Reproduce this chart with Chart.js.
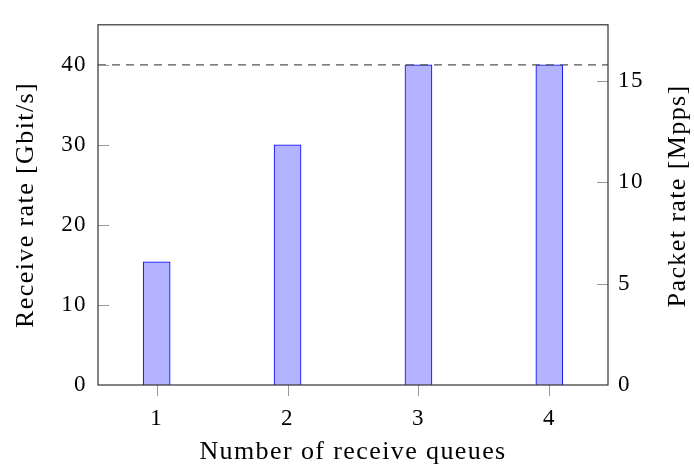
<!DOCTYPE html>
<html><head><meta charset="utf-8">
<script src="https://cdn.jsdelivr.net/npm/chart.js@4/dist/chart.umd.min.js"></script>
<style>html,body{margin:0;padding:0;background:#fff}#wrap{width:694px;height:472px}</style>
</head><body><div id="wrap"><canvas id="c" width="694" height="472"></canvas></div>
<script>
const queues = [1, 2, 3, 4];
const receiveRate = [15.4, 30, 40, 40];
const lineRate = 40;
const leftTicks = [0, 10, 20, 30, 40];
const rightTicks = [0, 5, 10, 15];
const xTicks = [1, 2, 3, 4];
const rightTitle = 'Packet rate [Mpps]';

const FONT = "'Liberation Serif', serif";

const spacingPlugin = {
  id: 'spacing',
  beforeUpdate(chart) { chart.ctx.letterSpacing = '1.4px'; },
  beforeDraw(chart) { chart.ctx.letterSpacing = '1.4px'; }
};

const boxPlugin = {
  id: 'box',
  afterDatasetsDraw(chart) {
    const {ctx, chartArea: a, scales} = chart;
    ctx.save();
    ctx.strokeStyle = '#999';
    ctx.lineWidth = 1;
    ctx.beginPath();
    leftTicks.forEach(v => { const y = Math.round(scales.y.getPixelForValue(v)) + 0.5; if (v !== 0) { ctx.moveTo(a.left, y); ctx.lineTo(a.left + 11, y); } });
    rightTicks.forEach(v => { const y = Math.round(scales.y2.getPixelForValue(v)) + 0.5; if (v !== 0) { ctx.moveTo(a.right, y); ctx.lineTo(a.right - 11, y); } });
    xTicks.forEach(v => { const x = Math.round(scales.x.getPixelForValue(v)) + 0.5; ctx.moveTo(x, a.bottom); ctx.lineTo(x, a.bottom + 11); });
    ctx.stroke();
    ctx.strokeStyle = '#333';
    ctx.lineWidth = 1.2;
    ctx.strokeRect(a.left, a.top, a.right - a.left, a.bottom - a.top);
    // right axis title, reading bottom-to-top like the left one
    const s = scales.y2;
    ctx.translate(s.right - 16, (a.top + a.bottom) / 2 - 9);
    ctx.rotate(-Math.PI / 2);
    ctx.font = "26px " + FONT;
    ctx.fillStyle = '#000';
    ctx.textAlign = 'center';
    ctx.textBaseline = 'middle';
    ctx.fillText(rightTitle, 0, 0);
    ctx.restore();
  }
};

new Chart(document.getElementById('c'), {
  type: 'bar',
  data: {
    datasets: [
      {
        type: 'line',
        data: [{x: 0.552, y: lineRate}, {x: 4.448, y: lineRate}],
        borderColor: '#555',
        borderWidth: 1.3,
        borderDash: [8, 6],
        pointRadius: 0,
        yAxisID: 'y',
        order: 0
      },
      {
        type: 'bar',
        data: queues.map((q, i) => ({x: q, y: receiveRate[i]})),
        backgroundColor: '#b3b3ff',
        borderColor: '#0000ff',
        borderWidth: 1,
        barThickness: 27,
        yAxisID: 'y',
        order: 1
      }
    ]
  },
  options: {
    responsive: false,
    animation: false,
    layout: {padding: {top: 7, left: 0, right: 0, bottom: 0}},
    plugins: {legend: {display: false}, tooltip: {enabled: false}},
    scales: {
      x: {
        type: 'linear',
        offset: false,
        min: 0.552, max: 4.448,
        afterBuildTicks: s => { s.ticks = xTicks.map(v => ({value: v})); },
        afterFit: s => { s.height = 87; },
        grid: {display: false, drawTicks: false},
        border: {display: false},
        ticks: {font: {family: FONT, size: 23}, color: '#000', padding: 20},
        title: {display: true, text: 'Number of receive queues', font: {family: FONT, size: 26}, color: '#000', padding: {top: 2}}
      },
      y: {
        position: 'left',
        min: 0, max: 45,
        afterBuildTicks: s => { s.ticks = leftTicks.map(v => ({value: v})); },
        afterFit: s => { s.width = 98; },
        grid: {display: false, drawTicks: false},
        border: {display: false},
        ticks: {font: {family: FONT, size: 23}, color: '#000', padding: 11},
        title: {display: true, text: 'Receive rate [Gbit/s]', font: {family: FONT, size: 26}, color: '#000', padding: {top: 11}}
      },
      y2: {
        position: 'right',
        min: 0, max: 17.75,
        afterBuildTicks: s => { s.ticks = rightTicks.map(v => ({value: v})); },
        afterFit: s => { s.width = 86; },
        grid: {display: false, drawTicks: false},
        border: {display: false},
        ticks: {font: {family: FONT, size: 23}, color: '#000', padding: 10},
        title: {display: false}
      }
    }
  },
  plugins: [spacingPlugin, boxPlugin]
});
</script>
</body></html>
